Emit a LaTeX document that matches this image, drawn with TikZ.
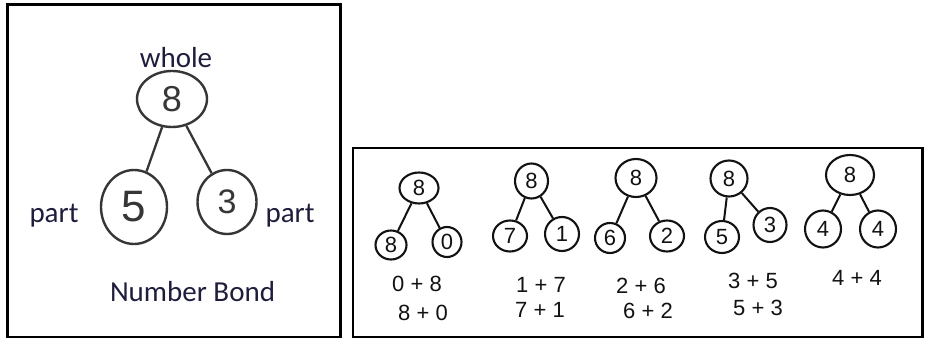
\documentclass[tikz,border=0pt]{standalone}
\usepackage{fontspec}
\setmainfont{Carlito}
\newfontfamily\digitfont{Liberation Sans}
\usetikzlibrary{shapes.geometric}

\definecolor{ink}{HTML}{1E1E3C}
\definecolor{pencil}{HTML}{363636}
\definecolor{marker}{HTML}{121212}

\tikzset{
  frame/.style={draw=black, line width=2.6pt},
  caption/.style={text=ink, font=\fontsize{29}{30}\selectfont, inner sep=0pt},
  bigbond/.style={ellipse, draw=pencil, line width=2.4pt, inner sep=0pt, text=pencil},
  biglink/.style={draw=pencil, line width=2.3pt},
  smallbond/.style={ellipse, draw=marker, line width=2.1pt, inner sep=0pt, text=marker,
    font=\digitfont\fontsize{22}{22}\selectfont},
  smalllink/.style={draw=marker, line width=2pt},
  sumtext/.style={text=marker, font=\digitfont\fontsize{22}{22}\selectfont, inner sep=0pt}
}

\begin{document}
\begin{tikzpicture}[x=1pt,y=-1pt]
  \useasboundingbox (0,0) rectangle (925,339);
  \fill[white] (0,0) rectangle (925,339);

  % ---- left panel: labelled number bond ----
  \draw[frame] (7.5,4.5) rectangle (340.5,337);
  \node[caption] (whole) at (176,58) {whole};
  \node[bigbond, minimum width=70pt, minimum height=56pt,
        font=\digitfont\fontsize{36}{36}\selectfont] (w8) at (172,99) {8};
  \node[bigbond, minimum width=66pt, minimum height=74pt,
        font=\digitfont\fontsize{44}{44}\selectfont] (p5) at (134,207) {5};
  \node[bigbond, minimum width=59pt, minimum height=64pt,
        font=\digitfont\fontsize{34}{34}\selectfont] (p3) at (227,202) {3};
  \draw[biglink] (w8) -- (p5);
  \draw[biglink] (w8) -- (p3);
  \node[caption] (partL) at (54,215.5) {part};
  \node[caption] (partR) at (290,215.5) {part};
  \node[caption] (title) at (192.5,292) {Number Bond};

  % ---- right panel: all the bonds of 8 ----
  \draw[frame] (353,148) rectangle (922.5,337);

  % 8 = 8 + 0
  \node[smallbond, minimum width=39pt, minimum height=31pt] (a8) at (419,188) {8};
  \node[smallbond, minimum width=31pt, minimum height=29pt] (aL) at (391,245) {8};
  \node[smallbond, minimum width=29pt, minimum height=30pt] (aR) at (447,242) {0};
  \draw[smalllink] (a8) -- (aL);
  \draw[smalllink] (a8) -- (aR);
  \node[sumtext] (a1) at (417,284) {0 + 8};
  \node[sumtext] (a2) at (423,313) {8 + 0};

  % 8 = 7 + 1
  \node[smallbond, minimum width=33pt, minimum height=35pt] (b8) at (531.5,181) {8};
  \node[smallbond, minimum width=34pt, minimum height=31pt] (bL) at (510,236) {7};
  \node[smallbond, minimum width=34pt, minimum height=34pt] (bR) at (562,234) {1};
  \draw[smalllink] (b8) -- (bL);
  \draw[smalllink] (b8) -- (bR);
  \node[sumtext] (b1) at (541,285) {1 + 7};
  \node[sumtext] (b2) at (540,310) {7 + 1};

  % 8 = 6 + 2
  \node[smallbond, minimum width=41pt, minimum height=38pt] (c8) at (636,178) {8};
  \node[smallbond, minimum width=30pt, minimum height=30pt] (cL) at (610,238) {6};
  \node[smallbond, minimum width=34pt, minimum height=31pt] (cR) at (667,236) {2};
  \draw[smalllink] (c8) -- (cL);
  \draw[smalllink] (c8) -- (cR);
  \node[sumtext] (c1) at (641,286) {2 + 6};
  \node[sumtext] (c2) at (648,311) {6 + 2};

  % 8 = 5 + 3
  \node[smallbond, minimum width=37pt, minimum height=36pt] (d8) at (729,178.5) {8};
  \node[smallbond, minimum width=34pt, minimum height=32pt] (dL) at (722,237) {5};
  \node[smallbond, minimum width=33pt, minimum height=34pt] (dR) at (770,225) {3};
  \draw[smalllink] (d8) -- (dL);
  \draw[smalllink] (d8) -- (dR);
  \node[sumtext] (d1) at (753,281) {3 + 5};
  \node[sumtext] (d2) at (758,308) {5 + 3};

  % 8 = 4 + 4
  \node[smallbond, minimum width=48pt, minimum height=40pt] (e8) at (850,175) {8};
  \node[smallbond, minimum width=36pt, minimum height=37pt] (eL) at (823,229) {4};
  \node[smallbond, minimum width=36pt, minimum height=37pt] (eR) at (878,229) {4};
  \draw[smalllink] (e8) -- (eL);
  \draw[smalllink] (e8) -- (eR);
  \node[sumtext] (e1) at (857,278) {4 + 4};
\end{tikzpicture}
\end{document}
